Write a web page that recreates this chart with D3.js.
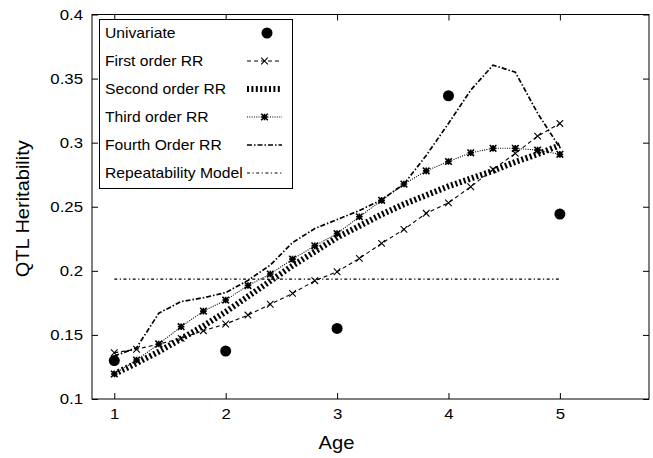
<!DOCTYPE html>
<html><head><meta charset="utf-8">
<script src="https://cdn.jsdelivr.net/npm/d3@7"></script>
<style>body{margin:0;background:#fff} text{font-family:"Liberation Sans",Arial,sans-serif;fill:#000}</style>
</head><body><svg id="c" width="653" height="458"></svg>
<script>
// ---- data ----
const ages = [1.0,1.2,1.4,1.6,1.8,2.0,2.2,2.4,2.6,2.8,3.0,3.2,3.4,3.6,3.8,4.0,4.2,4.4,4.6,4.8,5.0];
const univariateAges = [1,2,3,4,5];
const univariate = [0.130,0.1374,0.1551,0.3366,0.2443];
const firstOrder  = [0.1361,0.1388,0.1429,0.1473,0.1533,0.1585,0.1655,0.1739,0.1824,0.1923,0.1993,0.2097,0.2214,0.2323,0.2449,0.2530,0.2656,0.2791,0.2916,0.3051,0.3150];
const secondOrder = [0.1195,0.1280,0.1370,0.1470,0.1570,0.1680,0.1800,0.1920,0.2040,0.2150,0.2260,0.2350,0.2440,0.2520,0.2590,0.2660,0.2720,0.2780,0.2850,0.2910,0.2980];
const thirdOrder  = [0.1195,0.1304,0.1429,0.1564,0.1686,0.1772,0.1885,0.1975,0.2091,0.2195,0.2291,0.2422,0.2550,0.2677,0.2780,0.2853,0.2921,0.2956,0.2956,0.2942,0.2909];
const fourthOrder = [0.1335,0.1400,0.1670,0.1760,0.1790,0.1830,0.1925,0.2045,0.2220,0.2330,0.2400,0.2470,0.2555,0.2677,0.2900,0.3150,0.3410,0.3605,0.3550,0.3230,0.2960];
const repeatAges = [1,5];
const repeatability = [0.1936,0.1936];
const xTicks = [1,2,3,4,5];
const yTicks = [0.1,0.15,0.2,0.25,0.3,0.35,0.4];
const yTickLabels = ["0.1","0.15","0.2","0.25","0.3","0.35","0.4"];
const legendLabels = ["Univariate","First order RR","Second order RR","Third order RR","Fourth Order RR","Repeatability Model"];

// ---- layout ----
const L=92, R=649, T=14.5, B=399, SX=1.12;
const svg = d3.select("#c");
const x = d3.scaleLinear().domain([0.8,5.8]).range([L,R]);
const y = d3.scaleLinear().domain([0.1,0.4]).range([B,T]);

const styles = [
  null,
  {dash:"4,3", w:1.1, marker:"x"},
  {dash:"2,2.4", w:6, marker:null},
  {dash:"1,1.3", w:1.1, marker:"star"},
  {dash:"5,2,1.5,2", w:1.7, marker:null},
  {dash:"3,2.5,1.2,2.5", w:1.2, marker:null}
];
const series = [null, firstOrder, secondOrder, thirdOrder, fourthOrder];

// frame
svg.append("rect").attr("x",L).attr("y",T).attr("width",R-L).attr("height",B-T)
  .attr("fill","none").attr("stroke","#000").attr("stroke-width",1);

function styleAxis(g){ g.select(".domain").remove(); g.selectAll("line").attr("stroke","#000"); }
const gx = svg.append("g").attr("transform",`translate(0,${B})`)
  .call(d3.axisBottom(x).tickValues(xTicks).tickSize(-6).tickPadding(9).tickFormat(d3.format("d")));
const gy = svg.append("g").attr("transform",`translate(${L},0)`)
  .call(d3.axisLeft(y).tickValues(yTicks).tickSize(-6).tickPadding(9).tickFormat((d,i)=>yTickLabels[i]));
const gt = svg.append("g").attr("transform",`translate(0,${T})`)
  .call(d3.axisTop(x).tickValues(xTicks).tickSize(-6).tickFormat(""));
const gr = svg.append("g").attr("transform",`translate(${R},0)`)
  .call(d3.axisRight(y).tickValues(yTicks).tickSize(-6).tickFormat(""));
[gx,gy,gt,gr].forEach(styleAxis);
[gx,gy].forEach(g=>g.selectAll("text").attr("font-size",15).attr("font-family",'"Liberation Sans",Arial,sans-serif'));
gx.selectAll("text").attr("transform",`scale(${SX},1)`);
gy.selectAll("text").attr("x",-9/SX).attr("transform",`scale(${SX},1)`);

// lines
const line = d3.line().x(d=>x(d[0])).y(d=>y(d[1]));
const gl = svg.append("g");
function marker(g, type, cx, cy){
  const s=3.3;
  let p = `M${cx-s},${cy-s}L${cx+s},${cy+s}M${cx-s},${cy+s}L${cx+s},${cy-s}`;
  if(type==="star") p += `M${cx-s},${cy}L${cx+s},${cy}M${cx},${cy-s}L${cx},${cy+s}`;
  g.append("path").attr("d",p).attr("stroke","#000").attr("stroke-width",type==="star"?1.6:1.1).attr("fill","none");
}
for(let k=1;k<=4;k++){
  const st=styles[k];
  const pts = ages.map((a,i)=>[a,series[k][i]]);
  gl.append("path").attr("d",line(pts)).attr("fill","none").attr("stroke","#000")
    .attr("stroke-width",st.w).attr("stroke-dasharray",st.dash);
  if(st.marker) pts.forEach(p=>marker(gl,st.marker,x(p[0]),y(p[1])));
}
gl.append("path").attr("d",line(repeatAges.map((a,i)=>[a,repeatability[i]])))
  .attr("fill","none").attr("stroke","#000").attr("stroke-width",styles[5].w).attr("stroke-dasharray",styles[5].dash);
gl.selectAll("circle.u").data(univariateAges).enter().append("circle")
  .attr("cx",d=>x(d)).attr("cy",(d,i)=>y(univariate[i])).attr("r",5.5).attr("fill","#000");

// legend
const lg = svg.append("g");
lg.append("rect").attr("x",99.5).attr("y",19.5).attr("width",193).attr("height",169)
  .attr("fill","#fff").attr("stroke","#000").attr("stroke-width",1);
const rowY = [33,61,89,117,145,173];
legendLabels.forEach((t,i)=>{
  lg.append("text").attr("transform",`translate(105,${rowY[i]+5}) scale(${SX},1)`)
    .attr("font-size",14).text(t);
  if(i===0){
    lg.append("circle").attr("cx",267).attr("cy",rowY[i]).attr("r",5.5).attr("fill","#000");
  } else {
    const st=styles[i];
    lg.append("line").attr("x1",247).attr("x2",282).attr("y1",rowY[i]).attr("y2",rowY[i])
      .attr("stroke","#000").attr("stroke-width",st.w).attr("stroke-dasharray",st.dash);
    if(st.marker) marker(lg,st.marker,264.5,rowY[i]);
  }
});

// axis titles
svg.append("text").attr("transform",`translate(${(L+R)/2 - 34},449) scale(${SX},1)`)
  .attr("text-anchor","middle").attr("font-size",18).text("Age");
svg.append("text").attr("transform",`translate(28.5,${(T+B)/2+2}) rotate(-90) scale(1,0.95)`)
  .attr("text-anchor","middle").attr("font-size",20).text("QTL Heritability");
</script></body></html>
